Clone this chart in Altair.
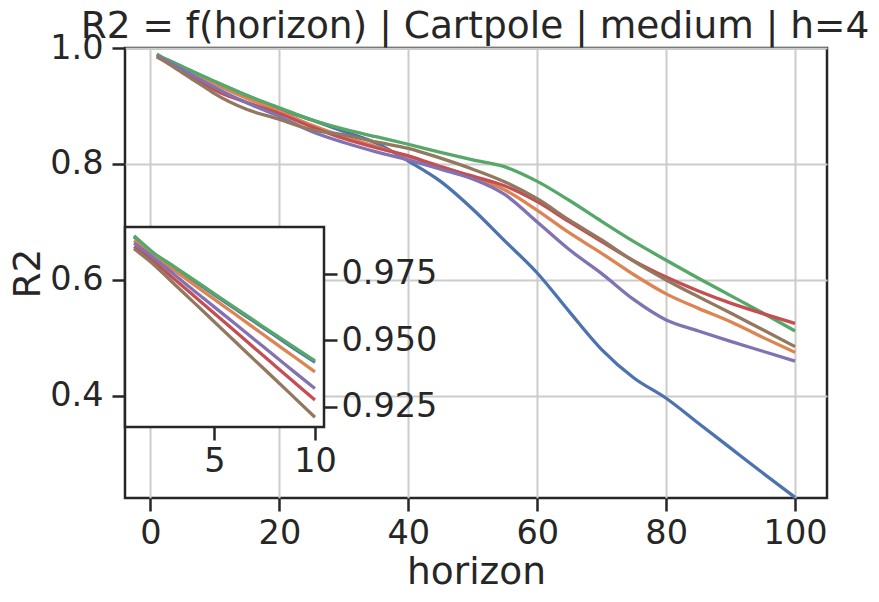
import altair as alt
import pandas as pd

horizons = [1, 2, 3, 4, 5, 6, 7, 8, 9, 10, 15, 20, 25, 30, 35, 40, 45, 50,
            55, 60, 65, 70, 75, 80, 85, 90, 95, 100]

series_names = ["run 1", "run 2", "run 3", "run 4", "run 5", "run 6"]
series_colors = ["#4C72B0", "#DD8452", "#55A868", "#C44E52", "#8172B3", "#937860"]

r2_run1 = [0.9890, 0.9824, 0.9774, 0.9723, 0.9671, 0.9620, 0.9569, 0.9518, 0.9467, 0.9417,
           0.918, 0.895, 0.876, 0.856, 0.836, 0.805, 0.770, 0.722, 0.667, 0.612,
           0.545, 0.480, 0.431, 0.396, 0.353, 0.310, 0.267, 0.225]
r2_run2 = [0.9876, 0.9818, 0.9763, 0.9709, 0.9654, 0.9600, 0.9545, 0.9490, 0.9436, 0.9381,
           0.913, 0.891, 0.867, 0.847, 0.830, 0.813, 0.796, 0.777, 0.755, 0.720,
           0.681, 0.646, 0.609, 0.576, 0.551, 0.528, 0.501, 0.475]
r2_run3 = [0.9894, 0.9828, 0.9778, 0.9727, 0.9675, 0.9624, 0.9573, 0.9522, 0.9472, 0.9422,
           0.918, 0.897, 0.876, 0.860, 0.847, 0.834, 0.820, 0.807, 0.795, 0.770,
           0.737, 0.701, 0.666, 0.634, 0.603, 0.573, 0.543, 0.512]
r2_run4 = [0.9853, 0.9796, 0.9731, 0.9666, 0.9601, 0.9536, 0.9470, 0.9405, 0.9340, 0.9275,
           0.906, 0.887, 0.864, 0.844, 0.828, 0.814, 0.795, 0.779, 0.762, 0.735,
           0.700, 0.666, 0.633, 0.605, 0.581, 0.560, 0.542, 0.525]
r2_run5 = [0.9866, 0.9809, 0.9748, 0.9686, 0.9625, 0.9564, 0.9502, 0.9441, 0.9379, 0.9318,
           0.905, 0.882, 0.856, 0.837, 0.821, 0.807, 0.791, 0.774, 0.747, 0.700,
           0.652, 0.611, 0.566, 0.531, 0.512, 0.494, 0.477, 0.460]
r2_run6 = [0.9845, 0.9784, 0.9712, 0.9641, 0.9569, 0.9497, 0.9425, 0.9354, 0.9282, 0.9210,
           0.894, 0.877, 0.859, 0.850, 0.838, 0.827, 0.810, 0.791, 0.769, 0.740,
           0.703, 0.669, 0.632, 0.600, 0.571, 0.543, 0.514, 0.485]

all_series = [r2_run1, r2_run2, r2_run3, r2_run4, r2_run5, r2_run6]

title_text = "R2 = f(horizon) | Cartpole | medium | h=4"
x_ticks = [0, 20, 40, 60, 80, 100]
y_ticks = [0.4, 0.6, 0.8, 1.0]
inset_x_ticks = [5, 10]
inset_y_ticks = [0.925, 0.950, 0.975]
inset_max_h = 10

rows = []
for name, vals in zip(series_names, all_series):
    for h, v in zip(horizons, vals):
        rows.append({"horizon": h, "R2": v, "run": name})
df = pd.DataFrame(rows)
inset_df = df[df["horizon"] <= inset_max_h]

TXT = "#262626"
W, H = 702, 450
IN_W, IN_TOP, IN_BOT = 199, 179, 379
TICK_FS, LABEL_FS = 33.5, 37.5
LW = 3.3

color = alt.Color("run:N", scale=alt.Scale(domain=series_names, range=series_colors), legend=None)

main_lines = alt.Chart(df).mark_line(strokeWidth=LW, interpolate="monotone").encode(
    x=alt.X("horizon:Q",
            scale=alt.Scale(domain=[-3.95, 104.95], nice=False, zero=False),
            axis=alt.Axis(values=x_ticks, title="horizon", grid=True, format="d",
                          labelPadding=6, titlePadding=4)),
    y=alt.Y("R2:Q",
            scale=alt.Scale(domain=[0.224, 1.0], nice=False, zero=False),
            axis=alt.Axis(values=y_ticks, title="R2", grid=True, format=".1f",
                          labelPadding=9, titlePadding=2)),
    color=color,
)

one_row = pd.DataFrame({"k": [0]})
title_mark = alt.Chart(one_row).mark_text(
    text=title_text, fontSize=LABEL_FS, font="DejaVu Sans", color=TXT,
    align="center", baseline="alphabetic"
).encode(x=alt.value(350), y=alt.value(-10))

main = alt.layer(main_lines, title_mark)

inset_bg = alt.Chart(one_row).mark_rect(fill="white", stroke=TXT, strokeWidth=2.5).encode(
    x=alt.value(0), x2=alt.value(IN_W), y=alt.value(IN_TOP), y2=alt.value(IN_BOT)
)

inset_lines = alt.Chart(inset_df).mark_line(strokeWidth=LW, interpolate="monotone").encode(
    x=alt.X("horizon:Q",
            scale=alt.Scale(domain=[0.55, 10.45], nice=False, zero=False, range=[0, IN_W]),
            axis=alt.Axis(values=inset_x_ticks, title=None, grid=False, orient="bottom",
                          offset=-(H - IN_BOT), format="d", labelPadding=5)),
    y=alt.Y("R2:Q",
            scale=alt.Scale(domain=[0.9173, 0.9927], nice=False, zero=False,
                            range=[IN_BOT, IN_TOP]),
            axis=alt.Axis(values=inset_y_ticks, title=None, grid=False, orient="right",
                          offset=-(W - IN_W), format=".3f", labelPadding=4)),
    color=color,
)

inset = alt.layer(inset_bg, inset_lines)

chart = alt.layer(main, inset).resolve_scale(
    x="independent", y="independent", color="shared"
).properties(
    width=W, height=H,
    autosize=alt.AutoSizeParams(type="none"),
    padding={"left": 117, "top": 40, "right": 44, "bottom": 96},
).configure(
    font="DejaVu Sans",
).configure_view(
    stroke=TXT, strokeWidth=2.5, fill="white"
).configure_axis(
    domain=False, labelFont="DejaVu Sans", titleFont="DejaVu Sans",
    labelFontSize=TICK_FS, titleFontSize=LABEL_FS, labelColor=TXT, titleColor=TXT,
    titleFontWeight="normal", tickColor=TXT, tickWidth=2.5, tickSize=13,
    gridColor="#cccccc", gridWidth=2, gridOpacity=1,
)

chart.save("out.html", embed_options={"renderer": "svg", "actions": False})
